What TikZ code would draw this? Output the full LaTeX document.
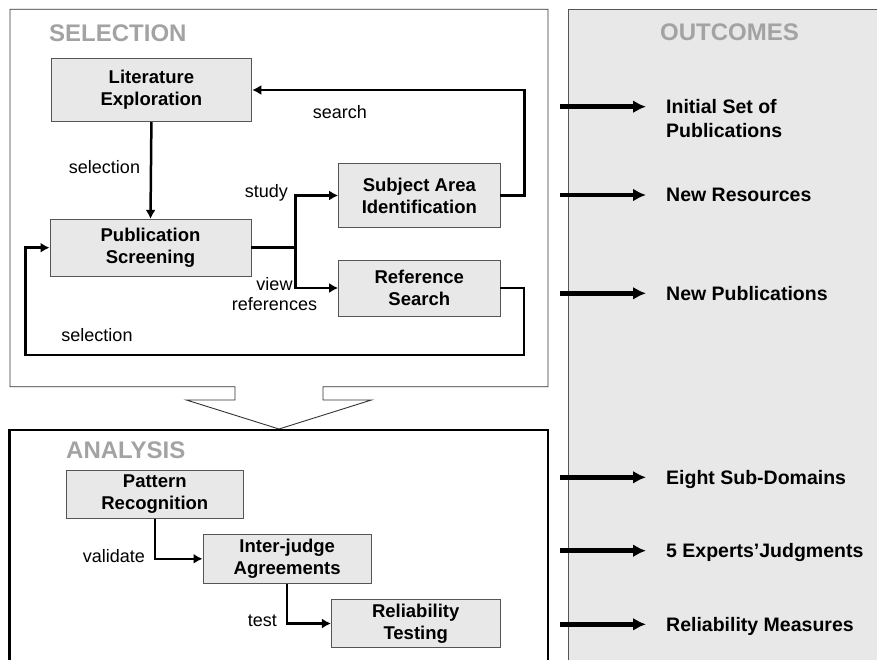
\documentclass[tikz,border=0pt]{standalone}
\usepackage{fontspec}
\setmainfont{Liberation Sans}
\usetikzlibrary{arrows.meta,calc}
\definecolor{boxfill}{HTML}{E8E8E8}
\definecolor{titlegray}{HTML}{A3A3A3}
\definecolor{edgegray}{HTML}{555555}
\begin{document}
\begin{tikzpicture}[x=1pt,y=-1pt,
 stepbox/.style={draw=edgegray,line width=0.9pt,fill=boxfill,align=center,inner sep=0pt,
   font=\fontsize{18.5}{22}\selectfont\bfseries},
 conn/.style={line width=2.5pt,-{Latex[length=9pt,width=10pt]}},
 plainline/.style={line width=2.5pt},
 lbl/.style={font=\fontsize{18}{20}\selectfont,inner sep=0pt},
 ttl/.style={font=\fontsize{24}{28}\selectfont\bfseries,text=titlegray,inner sep=0pt},
 outarrow/.style={line width=4.5pt,-{Latex[length=13pt,width=13pt]}},
 outtxt/.style={font=\fontsize{19.5}{23.3}\selectfont\bfseries,inner sep=0pt,align=left},
]
\useasboundingbox (0,0) rectangle (877,660);
\clip (0,0) rectangle (877,660);

% outcomes panel
\draw[draw=edgegray,line width=0.9pt,fill=boxfill] (568,9.3) rectangle (900,700);

% selection frame with block arrow
\draw[draw=black!80,line width=0.9pt] (10,9.3) -- (548,9.3) -- (548,386.7) -- (323,386.7) -- (323,400)
  -- (371.4,400) -- (279,429) -- (186.4,400) -- (235,400) -- (235,386.7) -- (10,386.7) -- cycle;

% analysis frame
\draw[line width=2.5pt] (9.6,430) rectangle (548,720);

% titles
\node[ttl,anchor=west] (tsel) at (49,33.3) {SELECTION};
\node[ttl,anchor=west] (tana) at (66,450.7) {ANALYSIS};
\node[ttl] (tout) at (729.5,32.3) {OUTCOMES};

% selection boxes
\node[stepbox,minimum width=200.8pt,minimum height=63.4pt] (lit) at (151.4,90) {Literature\\Exploration};
\node[stepbox,minimum width=201pt,minimum height=56.7pt] (ps) at (150.5,247.7) {Publication\\Screening};
\node[stepbox,minimum width=161.4pt,minimum height=64.4pt] (sub) at (419.3,195.5) {Subject Area\\Identification};
\node[stepbox,minimum width=161.4pt,minimum height=56pt] (rs) at (419.3,288) {Reference\\Search};

% analysis boxes
\node[stepbox,minimum width=177.6pt,minimum height=48.3pt] (pr) at (154.8,494.2) {Pattern\\Recognition};
\node[stepbox,minimum width=168.4pt,minimum height=49pt] (ia) at (287.2,558.8) {Inter-judge\\Agreements};
\node[stepbox,minimum width=168.6pt,minimum height=48.4pt] (rt) at (415.7,623.5) {Reliability\\Testing};

% selection connectors
\draw[conn] (lit.south) -- (ps.north);
\draw[conn] (sub.east) -- ++(24,0) |- (lit.east);
\coordinate (br) at ($(ps.east)+(44,0)$);
\draw[plainline] (ps.east) -- (br);
\draw[conn] (br) |- (sub.west);
\draw[conn] (br) |- (rs.west);
\coordinate (loopbr) at (524,355);
\coordinate (loopbl) at (25.7,355);
\draw[conn] (rs.east) -| (loopbr) -- (loopbl) |- (ps.west);

% analysis connectors
\draw[conn] (pr.south) |- (ia.west);
\draw[conn] (ia.south) |- (rt.west);

% labels
\node[lbl] (lsearch) at (339.8,111.7) {search};
\node[lbl] (lsel1) at (104.5,166.7) {selection};
\node[lbl,anchor=east] (lstudy) at (288,193) {study};
\node[lbl,align=center] (lview) at (274.5,294) {view\\references};
\node[lbl] (lsel2) at (97,335) {selection};
\node[lbl,anchor=east] (lvalid) at (145,556) {validate};
\node[lbl,anchor=east] (ltest) at (277,621) {test};

% outcomes
\foreach \y/\n in {106.7/a,195/b,293.3/c,477.3/d,550.7/e,624.3/f}{
  \coordinate (s\n) at (560,\y);
  \coordinate (e\n) at (646,\y);
  \draw[outarrow] (s\n) -- (e\n);
}
\node[outtxt,anchor=north west] (oa) at (666,99.5) {Initial Set of\\Publications};
\node[outtxt,anchor=base west] (ob) at (666,202) {New Resources};
\node[outtxt,anchor=base west] (oc) at (666,300.3) {New Publications};
\node[outtxt,anchor=base west] (od) at (666,484.3) {Eight Sub-Domains};
\node[outtxt,anchor=base west] (oe) at (666,557.7) {5 Experts'Judgments};
\node[outtxt,anchor=base west] (of) at (666,631.3) {Reliability Measures};
\end{tikzpicture}
\end{document}
